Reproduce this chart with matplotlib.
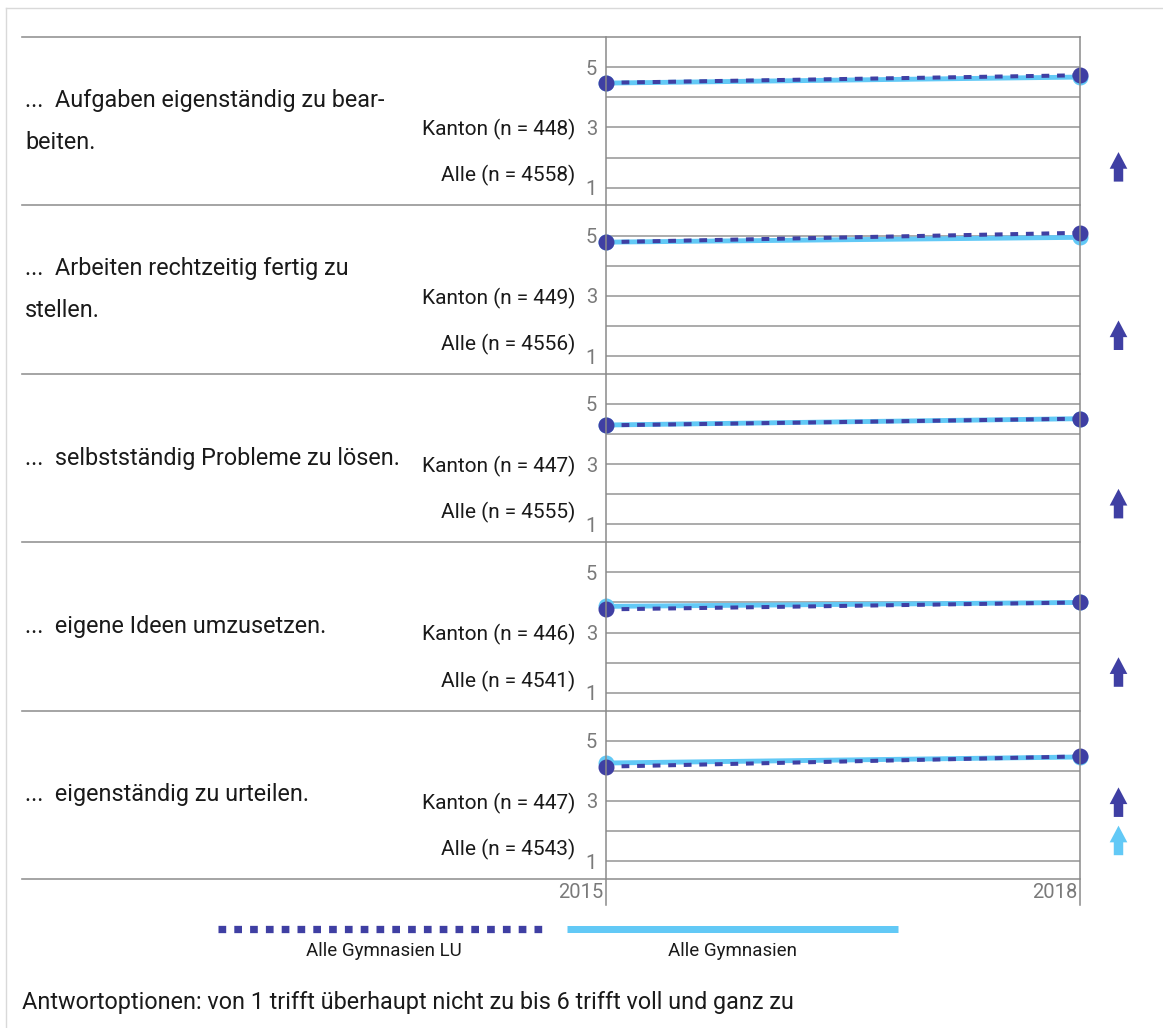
import matplotlib
matplotlib.use("Agg")
import matplotlib.pyplot as plt
import matplotlib.transforms as mtransforms
from matplotlib.lines import Line2D

plt.rcParams['font.family'] = ['Roboto', 'DejaVu Sans']
plt.rcParams['lines.scale_dashes'] = False

# ---- data -------------------------------------------------------------
years = [2015, 2018]
questions = [
    "...  Aufgaben eigenständig zu bear-\nbeiten.",
    "...  Arbeiten rechtzeitig fertig zu\nstellen.",
    "...  selbstständig Probleme zu lösen.",
    "...  eigene Ideen umzusetzen.",
    "...  eigenständig zu urteilen.",
]
n_kanton = [448, 449, 447, 446, 447]
n_alle = [4558, 4556, 4555, 4541, 4543]
lu_2015 = [4.48, 4.78, 4.29, 3.77, 4.14]
lu_2018 = [4.73, 5.09, 4.51, 4.00, 4.48]
alle_2015 = [4.47, 4.78, 4.30, 3.87, 4.26]
alle_2018 = [4.67, 4.94, 4.51, 4.00, 4.46]
# significant increases per panel: (series, slot) with slot 0 = lower, 1 = upper
arrows = [
    [("lu", 0)],
    [("lu", 0)],
    [("lu", 0)],
    [("lu", 0)],
    [("lu", 1), ("alle", 0)],
]
series_names = ["Alle Gymnasien LU", "Alle Gymnasien"]
footer = "Antwortoptionen: von 1 trifft überhaupt nicht zu bis 6 trifft voll und ganz zu"

# ---- style ------------------------------------------------------------
W, H, DPI = 1163, 1028, 100
DARK = "#3f3fa3"
LIGHT = "#62c9f6"
GRID = "#959595"
TXT = "#1a1a1a"
TICK = "#7a7a7a"
FS_Q = 16.8     # question text and footer
FS_N = 15       # sample size labels
FS_T = 14.5     # axis tick labels

fig = plt.figure(figsize=(W / DPI, H / DPI), dpi=DPI)
fig.patch.set_facecolor("white")


def fx(x):
    return x / W


def fy(y):
    return 1 - y / H


def pt(px):
    return px * 72 / DPI


def fig_line(x0, y0, x1, y1, **kw):
    fig.add_artist(Line2D([fx(x0), fx(x1)], [fy(y0), fy(y1)],
                          transform=fig.transFigure, **kw))


# outer frame (top and left edge)
fig_line(6, H, 6, 8, color="#d9d9d9", lw=1)
fig_line(6, 8, W, 8, color="#d9d9d9", lw=1)

PANEL_TOP = 37
PANEL_H = 168.4
AX_L, AX_R = 606, 1080

for i in range(5):
    top = PANEL_TOP + i * PANEL_H
    ax = fig.add_axes([fx(AX_L), fy(top + PANEL_H), (AX_R - AX_L) / W, PANEL_H / H])
    ax.set_xlim(years[0], years[-1])
    ax.set_ylim(0.41, 6.0)
    for s in ax.spines.values():
        s.set_visible(False)
    ax.set_xticks([])
    ax.set_yticks([1, 2, 3, 4, 5])
    ax.set_yticklabels(["1", "", "3", "", "5"])
    ax.tick_params(axis="y", length=0, pad=pt(9), labelsize=FS_T, labelcolor=TICK)
    ax.yaxis.grid(True, color=GRID, lw=1.1)
    ax.set_axisbelow(True)
    ax.patch.set_alpha(0)

    ax.plot(years, [alle_2015[i], alle_2018[i]], color=LIGHT, lw=3.5,
            marker="o", ms=10.5, clip_on=False, zorder=3)
    ax.plot(years, [lu_2015[i], lu_2018[i]], color=DARK, lw=2.9,
            dashes=(5.6, 5.6), dash_capstyle="butt", clip_on=False, zorder=4)
    ax.plot(years, [lu_2015[i], lu_2018[i]], color=DARK, lw=0,
            marker="o", ms=10.5, clip_on=False, zorder=5)

    blend = mtransforms.blended_transform_factory(ax.transAxes, ax.transData)
    lx = (575 - AX_L) / (AX_R - AX_L)
    ax.text(lx, 3, f"Kanton (n = {n_kanton[i]})", transform=blend,
            ha="right", va="center_baseline", fontsize=FS_N, color=TXT)
    ax.text(lx, 1.47, f"Alle (n = {n_alle[i]})", transform=blend,
            ha="right", va="center_baseline", fontsize=FS_N, color=TXT)

    qx = (25 - AX_L) / (AX_R - AX_L)
    ax.text(qx, 0.5, questions[i], transform=ax.transAxes, ha="left",
            va="center", fontsize=FS_Q, color=TXT, linespacing=2.05)

    ax_x = (1118.5 - AX_L) / (AX_R - AX_L)
    for name, slot in arrows[i]:
        base = 1.2 + slot * 1.27
        ax.annotate("", xy=(ax_x, base + 0.98), xytext=(ax_x, base),
                    xycoords=blend, textcoords=blend,
                    arrowprops=dict(arrowstyle="simple,head_length=1.2,head_width=1.27,tail_width=0.68",
                                    mutation_scale=10, color=DARK if name == "lu" else LIGHT,
                                    shrinkA=0, shrinkB=0, lw=0))

# panel separators
for i in range(6):
    y = PANEL_TOP + i * PANEL_H
    fig_line(22, y, AX_R, y, color=GRID, lw=1.2)

# year axis lines
fig_line(AX_L, PANEL_TOP, AX_L, 905, color="#8a8a8a", lw=1.1)
fig_line(AX_R, PANEL_TOP, AX_R, 905, color="#8a8a8a", lw=1.1)
fig.text(fx(603), fy(893), str(years[0]), ha="right", va="center",
         fontsize=FS_T, color=TICK)
fig.text(fx(1077), fy(893), str(years[1]), ha="right", va="center",
         fontsize=FS_T, color=TICK)

# legend
fig_line(218, 929, 546, 929, color=DARK, lw=pt(7.3), dashes=(pt(7.7), pt(8.1)),
         dash_capstyle="butt")
fig_line(567, 929, 898, 929, color=LIGHT, lw=pt(7), solid_capstyle="butt")
fig.text(fx(384), fy(951), series_names[0], ha="center", va="center",
         fontsize=13.5, color=TXT)
fig.text(fx(732), fy(951), series_names[1], ha="center", va="center",
         fontsize=13.5, color=TXT)

fig.text(fx(22), fy(1002), footer, ha="left", va="center", fontsize=FS_Q, color=TXT)

fig.savefig("out.png", dpi=DPI)
